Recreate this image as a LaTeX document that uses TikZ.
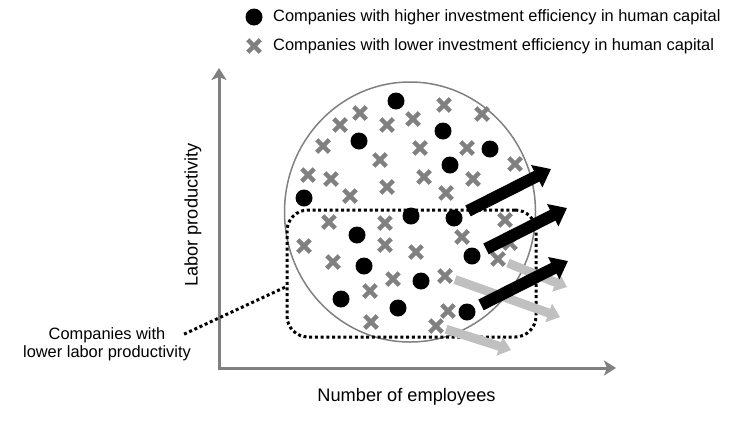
\documentclass[tikz,border=0pt]{standalone}
\usepackage{fontspec}
\setmainfont{Liberation Sans}
\usetikzlibrary{arrows.meta,shapes.geometric,shapes.misc}
\definecolor{axisgray}{RGB}{128,128,128}
\definecolor{arrowgray}{RGB}{192,192,192}
\begin{document}
\begin{tikzpicture}[x=1pt,y=-1pt,
  lbl/.style={font=\fontsize{16.4}{18}\selectfont},
  axislbl/.style={font=\fontsize{18.2}{20}\selectfont},
  hidot/.style={circle, fill, inner sep=0pt, minimum size=17pt},
  locross/.style={cross out, draw=axisgray, line width=4.5pt, inner sep=0pt, minimum size=8pt},
  axisline/.style={axisgray, line width=3pt, arrows={Stealth[length=12pt,width=15pt,inset=3pt]-Stealth[length=12pt,width=15pt,inset=3pt]}},
  lowframe/.style={draw, line width=3pt, dash pattern=on 3pt off 2.7pt, rounded corners=21pt, inner sep=0pt},
  callout/.style={line width=3pt, dash pattern=on 3pt off 2.7pt},
  hiarrow/.style={line width=12pt, shorten <=7pt, -{Triangle[length=16pt,width=24pt]}},
  loarrow/.style={arrowgray, line width=9pt, shorten <=4pt, -{Triangle[length=12pt,width=19pt]}}]
\useasboundingbox (0,0) rectangle (738,421);
% axes
\coordinate (ytop) at (219,68);
\coordinate (xend) at (616,368);
\draw[axisline] (ytop) |- (xend);
\node[axislbl, rotate=90] (ylabel) at (193,215) {Labor productivity};
\node[axislbl] (xlabel) at (406.5,397) {Number of employees};
% all companies
\node[ellipse, draw=axisgray, line width=1.5pt, inner sep=0pt, minimum width=251pt, minimum height=260pt] (pool) at (410,212) {};
\node[lowframe, minimum width=249pt, minimum height=127pt] (lowbox) at (411.5,273.5) {};
% lower efficiency
\node[locross] (lo1) at (444,105) {};
\node[locross] (lo2) at (360,113) {};
\node[locross] (lo3) at (340,125) {};
\node[locross] (lo4) at (387,125) {};
\node[locross] (lo5) at (413,119) {};
\node[locross] (lo6) at (482,114) {};
\node[locross] (lo7) at (323,146) {};
\node[locross] (lo8) at (420,148) {};
\node[locross] (lo9) at (467,148) {};
\node[locross] (lo10) at (380,160) {};
\node[locross] (lo11) at (515,164) {};
\node[locross] (lo12) at (308,175) {};
\node[locross] (lo13) at (331,179) {};
\node[locross] (lo14) at (424,177) {};
\node[locross] (lo15) at (473,179) {};
\node[locross] (lo16) at (387,187) {};
\node[locross] (lo17) at (350,196) {};
\node[locross] (lo18) at (446,193) {};
\node[locross] (lo19) at (329,222) {};
\node[locross] (lo20) at (385,223) {};
\node[locross] (lo21) at (505,220) {};
\node[locross] (lo22) at (304,246) {};
\node[locross] (lo23) at (385,245) {};
\node[locross] (lo24) at (416,252) {};
\node[locross] (lo25) at (462,237) {};
\node[locross] (lo26) at (333,262) {};
\node[locross] (lo27) at (498,259) {};
\node[locross] (lo28) at (393,279) {};
\node[locross] (lo29) at (445,276) {};
\node[locross] (lo30) at (370,291) {};
\node[locross] (lo31) at (448,311) {};
\node[locross] (lo32) at (371,322) {};
\node[locross] (lo33) at (436,326) {};
\node[locross] (lo34) at (510,243) {};
% higher efficiency
\node[hidot] (hi1) at (396,101) {};
\node[hidot] (hi2) at (359,141) {};
\node[hidot] (hi3) at (443,131) {};
\node[hidot] (hi4) at (490,149) {};
\node[hidot] (hi5) at (450,165) {};
\node[hidot] (hi6) at (304,198) {};
\node[hidot] (hi7) at (411,216) {};
\node[hidot] (hi8) at (454,218) {};
\node[hidot] (hi9) at (357,235) {};
\node[hidot] (hi10) at (472,256) {};
\node[hidot] (hi11) at (364,266) {};
\node[hidot] (hi12) at (421,281) {};
\node[hidot] (hi13) at (341,299) {};
\node[hidot] (hi14) at (398,308) {};
\node[hidot] (hi15) at (467,312) {};
% moves
\coordinate (lotip1) at (567,287);
\coordinate (lotip2) at (560,317);
\coordinate (lotip3) at (511,350);
\draw[loarrow] (lo27) -- (lotip1);
\draw[loarrow] (lo29) -- (lotip2);
\draw[loarrow] (lo33) -- (lotip3);
\coordinate (hitip1) at (551,169);
\coordinate (hitip2) at (567,208);
\coordinate (hitip3) at (568,261);
\draw[hiarrow] (hi8) -- (hitip1);
\draw[hiarrow] (hi10) -- (hitip2);
\draw[hiarrow] (hi15) -- (hitip3);
% callout
\node[lbl, align=center, inner sep=0pt] (lowlabel) at (107,344) {Companies with\\lower labor productivity};
\draw[callout] ([shift={(-7,7)}]lowlabel.north east) -- ([shift={(0,13.5)}]lowbox.west);
% legend
\node[hidot] (keyhi) at (254,17) {};
\node[lbl, anchor=west, inner sep=0pt] (keyhitext) at (273,17) {Companies with higher investment efficiency in human capital};
\node[locross] (keylo) at (254,46) {};
\node[lbl, anchor=west, inner sep=0pt] (keylotext) at (273,46) {Companies with lower investment efficiency in human capital};
\end{tikzpicture}
\end{document}
